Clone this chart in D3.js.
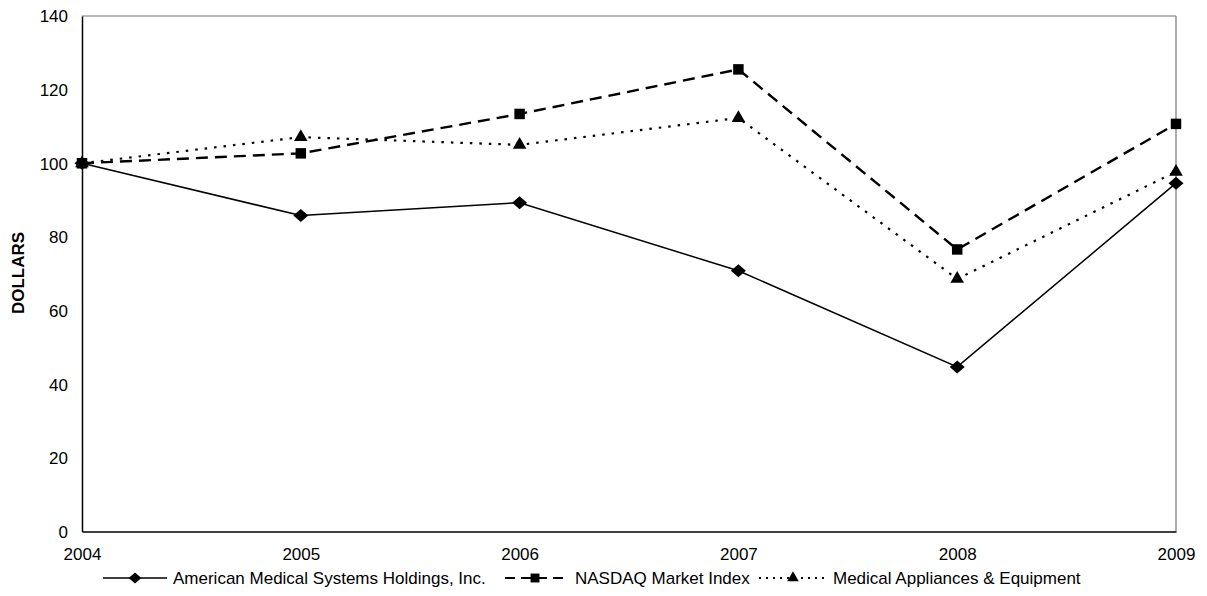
<!DOCTYPE html>
<html><head><meta charset="utf-8">
<script src="https://cdn.jsdelivr.net/npm/d3@7"></script>
<style>body{margin:0;background:#fff}svg{display:block}text{font-family:"Liberation Sans",Arial,sans-serif;fill:#000}</style>
</head><body><svg id="c" width="1207" height="596"></svg>
<script>
const years = ["2004","2005","2006","2007","2008","2009"];
const yTicks = [0,20,40,60,80,100,120,140];
const seriesNames = ["American Medical Systems Holdings, Inc.","NASDAQ Market Index","Medical Appliances & Equipment"];
const amsValues = [100,85.8,89.3,70.8,44.7,94.6];
const nasdaqValues = [100,102.7,113.4,125.5,76.6,110.7];
const medValues = [100,107.1,105.0,112.3,68.6,97.7];

const svg = d3.select("#c");
const L=82,R=1176,T=16,B=531.5;
const x = d3.scalePoint().domain(years).range([L,R]);
const y = d3.scaleLinear().domain([0,140]).range([B,T]);

// frame
svg.append("line").attr("x1",L).attr("x2",R).attr("y1",T).attr("y2",T).attr("stroke","#777").attr("stroke-width",1.2);
svg.append("line").attr("x1",R).attr("x2",R).attr("y1",T).attr("y2",B).attr("stroke","#777").attr("stroke-width",1.2);

// axes
const ya = svg.append("g").attr("transform",`translate(${L},0)`).call(d3.axisLeft(y).tickValues(yTicks).tickSize(0).tickPadding(14));
ya.select(".domain").attr("stroke","#000").attr("stroke-width",1.5);
ya.selectAll("text").style("font-size","17px").attr("dy","0.35em");
const xa = svg.append("g").attr("transform",`translate(0,${B})`).call(d3.axisBottom(x).tickSize(0).tickPadding(16));
xa.select(".domain").attr("stroke","#000").attr("stroke-width",1.5);
xa.selectAll("text").style("font-size","17px");

svg.append("text").attr("transform","translate(24,273) rotate(-90)").attr("text-anchor","middle")
  .style("font-size","17px").style("font-weight","bold").text("DOLLARS");

const series = [
  {name:seriesNames[0],vals:amsValues,dash:null,w:1.5,sym:"diamond"},
  {name:seriesNames[1],vals:nasdaqValues,dash:"12,7",w:2.4,sym:"square"},
  {name:seriesNames[2],vals:medValues,dash:"2.5,7",w:2.2,sym:"triangle"}
];
function symPath(s,k){
  k=k||1;
  if(s==="diamond") return `M0,${-6.5*k}L${7.5*k},0L0,${6.5*k}L${-7.5*k},0Z`;
  if(s==="square") return d3.symbol(d3.symbolSquare,110*k*k)();
  return d3.symbol(d3.symbolTriangle,80*k*k)();
}
const line = d3.line().x((d,i)=>x(years[i])).y(d=>y(d));
series.slice().reverse().forEach(s=>{
  svg.append("path").attr("d",line(s.vals)).attr("fill","none").attr("stroke","#000")
    .attr("stroke-width",s.w).attr("stroke-dasharray",s.dash);
});
series.forEach(s=>{
  svg.selectAll(null).data(s.vals).enter().append("path").attr("d",symPath(s.sym))
    .attr("transform",(d,i)=>`translate(${x(years[i])},${y(d)})`).attr("fill","#000");
});

// legend
const legY=578;
const leg=[{x0:103,x1:167,mx:135,tx:173},{x0:505,x1:567,mx:535,tx:575},{x0:759,x1:828,mx:793,tx:833}];
series.forEach((s,i)=>{
  const g=leg[i];
  svg.append("line").attr("x1",g.x0).attr("x2",g.x1).attr("y1",legY).attr("y2",legY).attr("stroke","#000")
    .attr("stroke-width",i===0?1.5:2).attr("stroke-dasharray",i===0?null:(i===1?"10,6":"2,5"));
  svg.append("path").attr("d",symPath(s.sym,0.85)).attr("transform",`translate(${g.mx},${legY})`).attr("fill","#000");
  svg.append("text").attr("x",g.tx).attr("y",legY).attr("dy","0.35em").style("font-size","17px").text(s.name);
});
</script></body></html>
